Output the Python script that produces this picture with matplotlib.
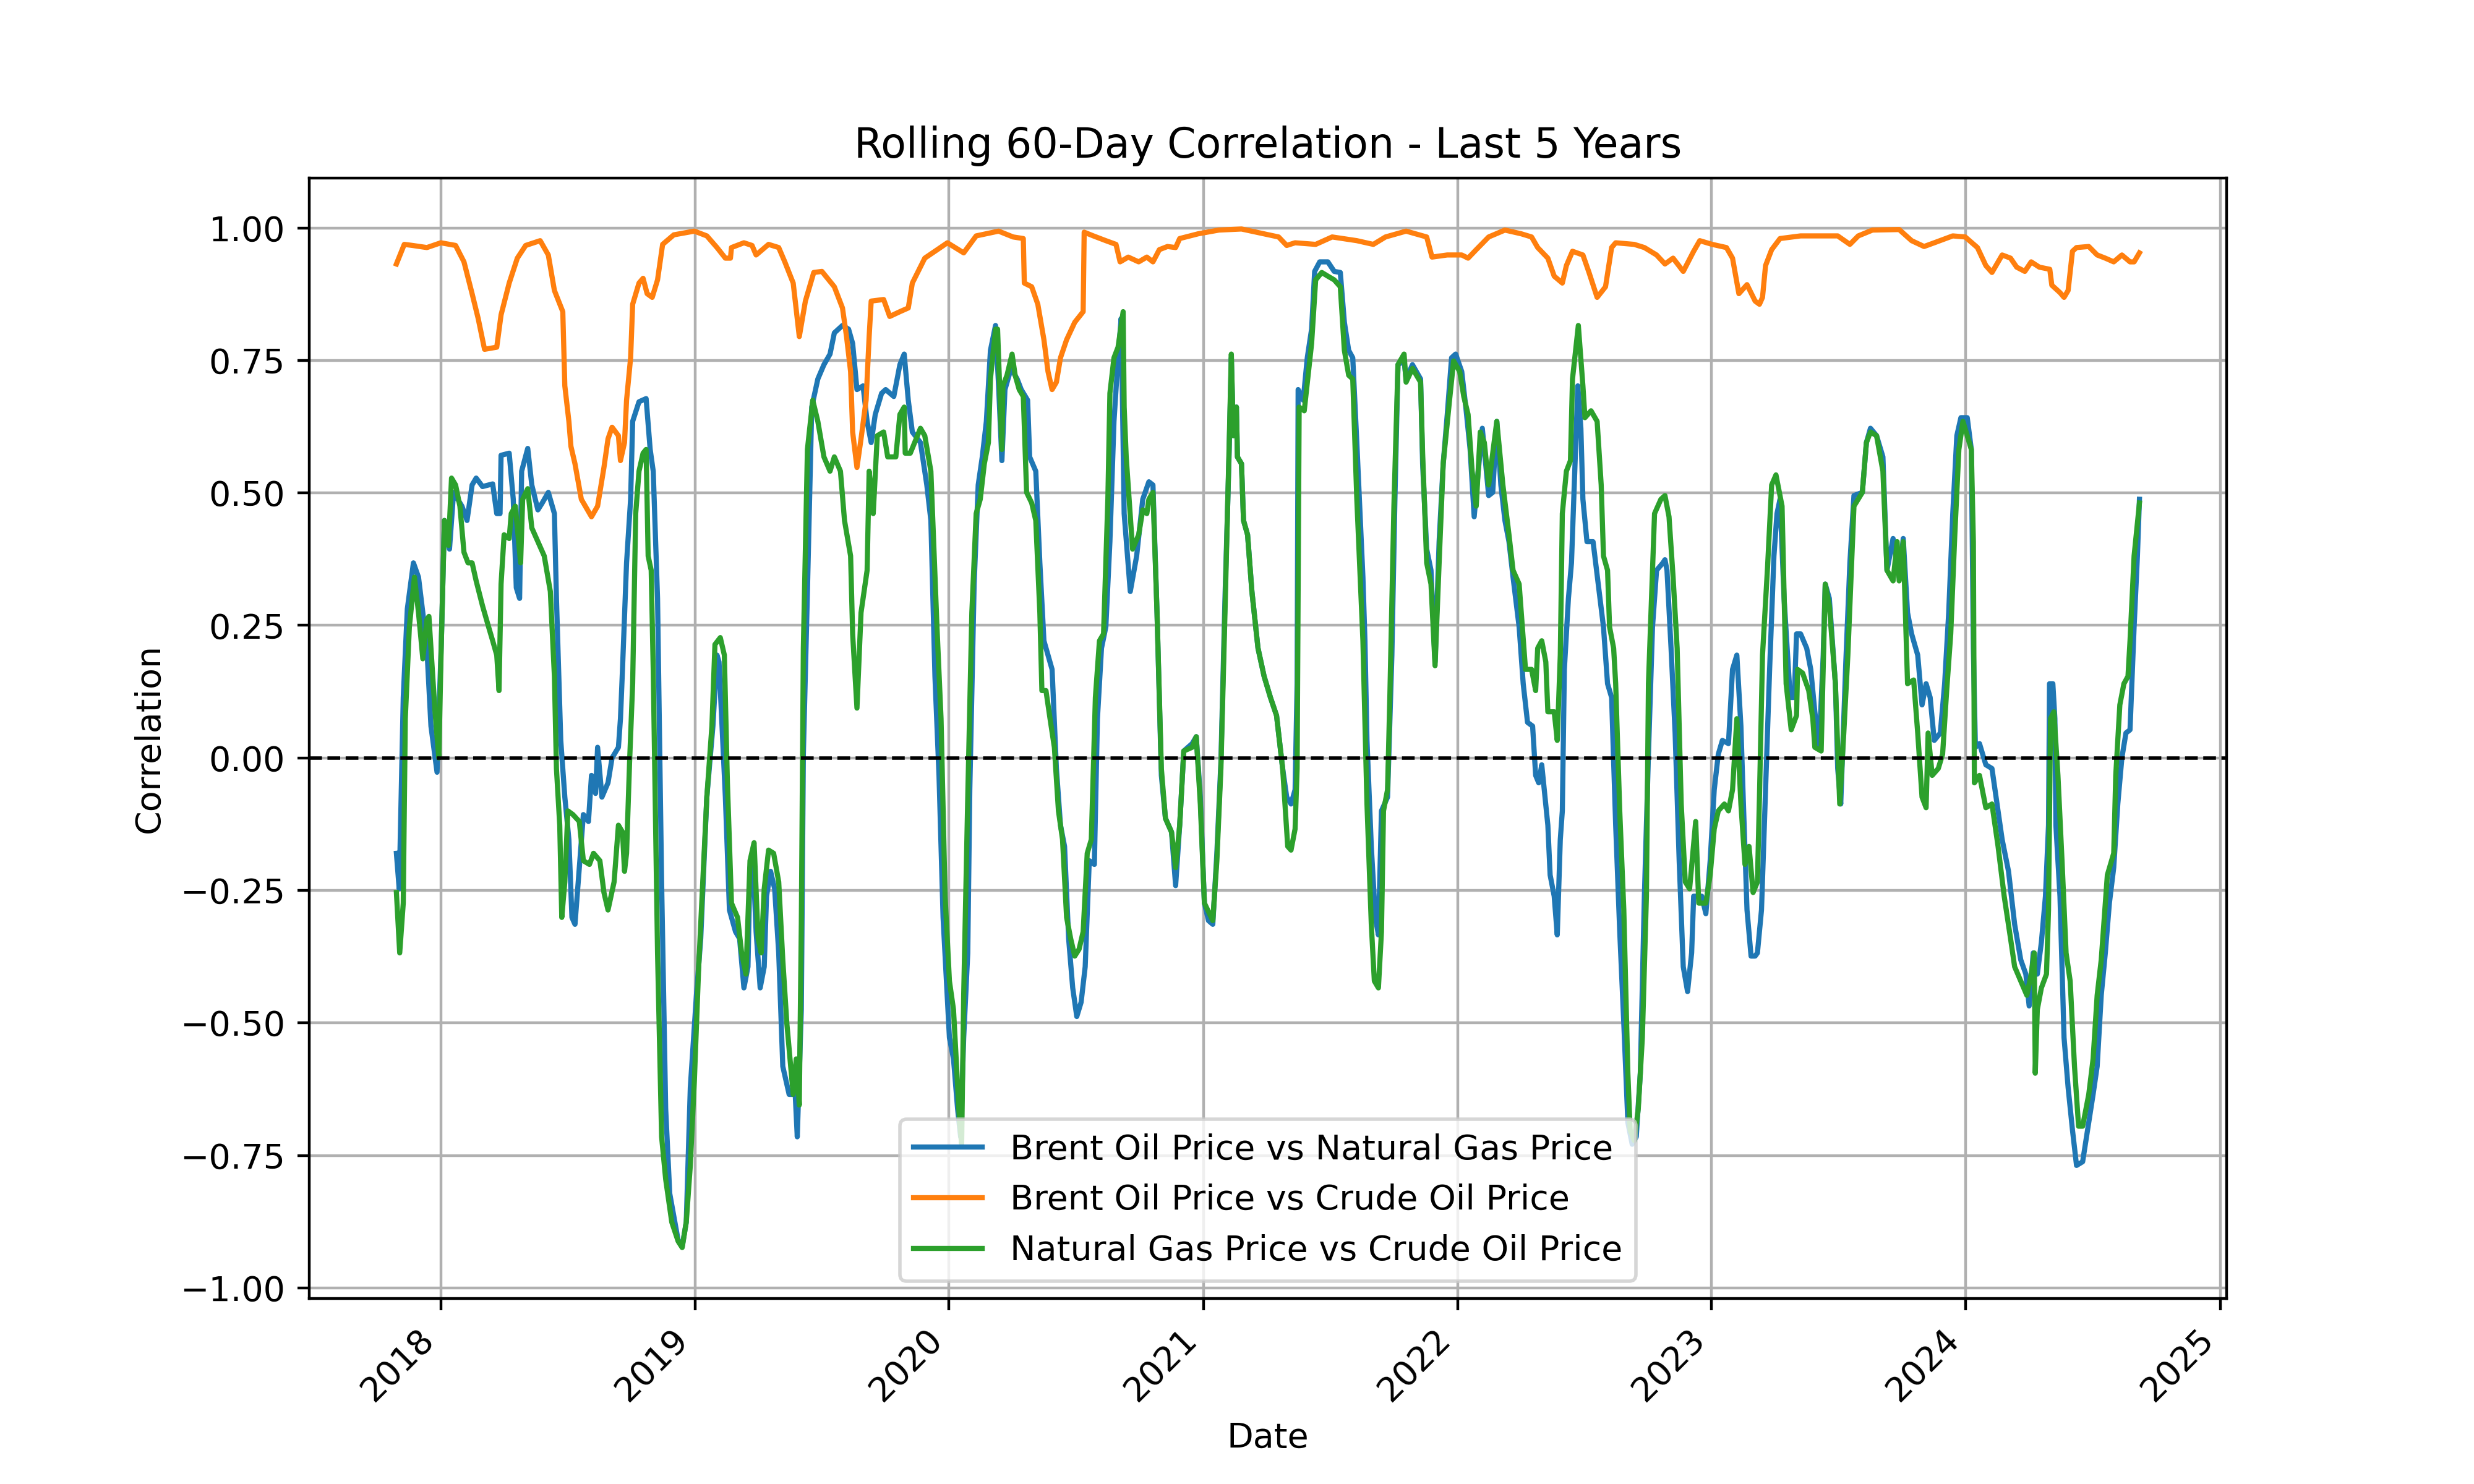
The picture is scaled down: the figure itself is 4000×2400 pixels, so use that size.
import matplotlib
matplotlib.use("Agg")
import matplotlib.pyplot as plt
import numpy as np
import pandas as pd

# rolling correlations (decimal year, correlation)
brent_gas_t = [
    2017.825, 2017.836, 2017.852, 2017.868, 2017.892, 2017.912, 2017.929, 2017.945, 2017.961, 2017.985,
    2018.002, 2018.014, 2018.034, 2018.050, 2018.083, 2018.103, 2018.123, 2018.139, 2018.164, 2018.204,
    2018.220, 2018.233, 2018.237, 2018.269, 2018.285, 2018.297, 2018.310, 2018.318, 2018.342, 2018.358,
    2018.382, 2018.399, 2018.423, 2018.447, 2018.455, 2018.472, 2018.488, 2018.504, 2018.516, 2018.528,
    2018.545, 2018.561, 2018.581, 2018.593, 2018.609, 2018.617, 2018.634, 2018.658, 2018.674, 2018.699,
    2018.707, 2018.715, 2018.731, 2018.747, 2018.755, 2018.780, 2018.808, 2018.824, 2018.836, 2018.853,
    2018.869, 2018.885, 2018.901, 2018.934, 2018.950, 2018.966, 2018.982, 2019.006, 2019.023, 2019.047,
    2019.071, 2019.087, 2019.095, 2019.120, 2019.136, 2019.160, 2019.176, 2019.193, 2019.209, 2019.217,
    2019.229, 2019.241, 2019.257, 2019.273, 2019.282, 2019.298, 2019.314, 2019.330, 2019.346, 2019.371,
    2019.395, 2019.403, 2019.419, 2019.427, 2019.443, 2019.460, 2019.484, 2019.508, 2019.532, 2019.549,
    2019.581, 2019.605, 2019.621, 2019.638, 2019.662, 2019.678, 2019.694, 2019.710, 2019.735, 2019.751,
    2019.783, 2019.807, 2019.824, 2019.840, 2019.856, 2019.888, 2019.913, 2019.929, 2019.945, 2019.961,
    2019.977, 2020.002, 2020.018, 2020.034, 2020.046, 2020.058, 2020.074, 2020.082, 2020.099, 2020.115,
    2020.131, 2020.147, 2020.163, 2020.183, 2020.195, 2020.208, 2020.220, 2020.244, 2020.268, 2020.284,
    2020.309, 2020.317, 2020.341, 2020.357, 2020.373, 2020.389, 2020.405, 2020.422, 2020.438, 2020.454,
    2020.470, 2020.486, 2020.502, 2020.519, 2020.535, 2020.551, 2020.571, 2020.583, 2020.599, 2020.616,
    2020.632, 2020.648, 2020.664, 2020.676, 2020.680, 2020.688, 2020.712, 2020.737, 2020.761, 2020.785,
    2020.801, 2020.817, 2020.834, 2020.850, 2020.874, 2020.890, 2020.906, 2020.922, 2020.955, 2020.971,
    2020.987, 2021.003, 2021.019, 2021.036, 2021.052, 2021.068, 2021.084, 2021.100, 2021.109, 2021.117,
    2021.129, 2021.133, 2021.149, 2021.157, 2021.173, 2021.190, 2021.214, 2021.238, 2021.263, 2021.287,
    2021.311, 2021.327, 2021.344, 2021.360, 2021.368, 2021.372, 2021.392, 2021.408, 2021.425, 2021.437,
    2021.457, 2021.489, 2021.514, 2021.538, 2021.554, 2021.571, 2021.587, 2021.603, 2021.627, 2021.635,
    2021.643, 2021.660, 2021.676, 2021.688, 2021.700, 2021.724, 2021.741, 2021.753, 2021.765, 2021.789,
    2021.797, 2021.822, 2021.854, 2021.862, 2021.878, 2021.895, 2021.911, 2021.927, 2021.943, 2021.959,
    2021.976, 2021.992, 2022.016, 2022.032, 2022.049, 2022.065, 2022.081, 2022.097, 2022.122, 2022.138,
    2022.154, 2022.170, 2022.186, 2022.202, 2022.218, 2022.242, 2022.258, 2022.275, 2022.295, 2022.307,
    2022.319, 2022.331, 2022.355, 2022.364, 2022.380, 2022.392, 2022.404, 2022.412, 2022.420, 2022.436,
    2022.448, 2022.460, 2022.473, 2022.485, 2022.493, 2022.509, 2022.533, 2022.557, 2022.574, 2022.590,
    2022.606, 2022.622, 2022.638, 2022.654, 2022.670, 2022.687, 2022.703, 2022.719, 2022.735, 2022.751,
    2022.767, 2022.783, 2022.808, 2022.816, 2022.824, 2022.840, 2022.856, 2022.872, 2022.888, 2022.905,
    2022.921, 2022.929, 2022.961, 2022.977, 2022.994, 2023.010, 2023.026, 2023.042, 2023.066, 2023.082,
    2023.099, 2023.115, 2023.123, 2023.139, 2023.155, 2023.171, 2023.180, 2023.196, 2023.212, 2023.228,
    2023.245, 2023.257, 2023.269, 2023.285, 2023.309, 2023.325, 2023.334, 2023.350, 2023.374, 2023.390,
    2023.406, 2023.423, 2023.439, 2023.447, 2023.463, 2023.487, 2023.496, 2023.508, 2023.528, 2023.544,
    2023.560, 2023.593, 2023.609, 2023.625, 2023.649, 2023.674, 2023.690, 2023.714, 2023.738, 2023.754,
    2023.771, 2023.787, 2023.811, 2023.828, 2023.844, 2023.860, 2023.876, 2023.900, 2023.917, 2023.933,
    2023.949, 2023.965, 2023.981, 2024.006, 2024.022, 2024.030, 2024.038, 2024.054, 2024.079, 2024.103,
    2024.127, 2024.143, 2024.168, 2024.192, 2024.216, 2024.236, 2024.249, 2024.265, 2024.281, 2024.297,
    2024.313, 2024.325, 2024.329, 2024.342, 2024.350, 2024.354, 2024.370, 2024.386, 2024.402, 2024.419,
    2024.435, 2024.459, 2024.483, 2024.500, 2024.516, 2024.532, 2024.548, 2024.564, 2024.581, 2024.597,
    2024.613, 2024.629, 2024.645, 2024.661, 2024.674, 2024.682,
]
brent_gas_r = [
    -0.180, -0.247, 0.114, 0.281, 0.368, 0.341, 0.274, 0.207, 0.060, -0.027,
    0.221, 0.448, 0.394, 0.501, 0.475, 0.448, 0.515, 0.528, 0.512, 0.517,
    0.461, 0.461, 0.571, 0.575, 0.488, 0.321, 0.301, 0.541, 0.584, 0.515,
    0.468, 0.481, 0.501, 0.461, 0.301, 0.033, -0.074, -0.154, -0.301, -0.314,
    -0.207, -0.107, -0.120, -0.033, -0.067, 0.020, -0.074, -0.047, 0.000, 0.020,
    0.074, 0.167, 0.368, 0.488, 0.635, 0.672, 0.678, 0.582, 0.541, 0.301,
    -0.234, -0.662, -0.822, -0.910, -0.922, -0.876, -0.622, -0.448, -0.341, -0.074,
    0.060, 0.194, 0.181, -0.074, -0.287, -0.328, -0.341, -0.434, -0.394, -0.207,
    -0.194, -0.328, -0.434, -0.394, -0.261, -0.214, -0.247, -0.368, -0.582, -0.635,
    -0.635, -0.715, -0.475, 0.007, 0.314, 0.662, 0.715, 0.742, 0.762, 0.802,
    0.816, 0.809, 0.782, 0.695, 0.702, 0.635, 0.595, 0.648, 0.688, 0.695,
    0.682, 0.742, 0.762, 0.675, 0.615, 0.595, 0.515, 0.448, 0.154, -0.033,
    -0.301, -0.528, -0.568, -0.662, -0.715, -0.528, -0.368, -0.060, 0.328, 0.515,
    0.568, 0.635, 0.769, 0.816, 0.702, 0.561, 0.695, 0.735, 0.715, 0.695,
    0.675, 0.568, 0.541, 0.368, 0.221, 0.194, 0.167, -0.020, -0.127, -0.167,
    -0.341, -0.434, -0.488, -0.461, -0.394, -0.194, -0.201, 0.074, 0.207, 0.247,
    0.408, 0.635, 0.755, 0.829, 0.715, 0.461, 0.314, 0.381, 0.488, 0.521,
    0.515, 0.274, -0.033, -0.114, -0.140, -0.241, -0.127, 0.013, 0.027, 0.040,
    -0.074, -0.274, -0.307, -0.314, -0.180, -0.007, 0.301, 0.568, 0.755, 0.608,
    0.662, 0.568, 0.555, 0.448, 0.421, 0.314, 0.207, 0.154, 0.114, 0.080,
    -0.020, -0.074, -0.087, -0.060, 0.140, 0.695, 0.675, 0.755, 0.809, 0.918,
    0.936, 0.936, 0.918, 0.916, 0.822, 0.769, 0.755, 0.595, 0.341, 0.221,
    0.033, -0.167, -0.301, -0.334, -0.100, -0.074, 0.194, 0.488, 0.742, 0.749,
    0.715, 0.742, 0.715, 0.555, 0.394, 0.354, 0.181, 0.408, 0.555, 0.648,
    0.755, 0.762, 0.729, 0.662, 0.582, 0.455, 0.541, 0.622, 0.495, 0.501,
    0.635, 0.515, 0.448, 0.408, 0.341, 0.247, 0.140, 0.067, 0.060, -0.033,
    -0.047, -0.013, -0.127, -0.221, -0.261, -0.334, -0.154, -0.100, 0.167, 0.301,
    0.368, 0.528, 0.702, 0.622, 0.488, 0.408, 0.408, 0.314, 0.247, 0.140,
    0.114, -0.127, -0.328, -0.501, -0.688, -0.729, -0.715, -0.595, -0.261, 0.007,
    0.247, 0.354, 0.368, 0.374, 0.354, 0.207, 0.047, -0.194, -0.394, -0.441,
    -0.368, -0.261, -0.261, -0.294, -0.194, -0.060, 0.007, 0.033, 0.027, 0.167,
    0.194, 0.060, -0.060, -0.287, -0.374, -0.374, -0.368, -0.287, -0.060, 0.167,
    0.381, 0.461, 0.488, 0.301, 0.114, 0.114, 0.234, 0.234, 0.207, 0.167,
    0.087, 0.020, 0.194, 0.328, 0.301, 0.140, -0.020, -0.087, 0.181, 0.368,
    0.495, 0.501, 0.595, 0.622, 0.608, 0.568, 0.354, 0.414, 0.341, 0.414,
    0.274, 0.234, 0.194, 0.100, 0.140, 0.114, 0.033, 0.047, 0.140, 0.274,
    0.461, 0.608, 0.642, 0.642, 0.582, 0.207, 0.020, 0.027, -0.013, -0.020,
    -0.100, -0.154, -0.214, -0.314, -0.381, -0.408, -0.468, -0.368, -0.408, -0.348,
    -0.261, -0.127, 0.140, 0.140, 0.074, -0.127, -0.261, -0.528, -0.622, -0.702,
    -0.769, -0.762, -0.688, -0.635, -0.582, -0.448, -0.368, -0.274, -0.207, -0.087,
    0.000, 0.047, 0.053, 0.247, 0.381, 0.488,
]

brent_crude_t = [
    2017.825, 2017.856, 2017.888, 2017.945, 2018.000, 2018.058, 2018.091, 2018.123, 2018.147, 2018.172,
    2018.220, 2018.237, 2018.269, 2018.301, 2018.334, 2018.391, 2018.423, 2018.447, 2018.480, 2018.488,
    2018.504, 2018.512, 2018.528, 2018.553, 2018.593, 2018.617, 2018.642, 2018.658, 2018.674, 2018.699,
    2018.707, 2018.723, 2018.731, 2018.747, 2018.755, 2018.780, 2018.796, 2018.812, 2018.832, 2018.853,
    2018.873, 2018.917, 2018.998, 2019.047, 2019.087, 2019.120, 2019.140, 2019.144, 2019.193, 2019.225,
    2019.241, 2019.290, 2019.330, 2019.354, 2019.387, 2019.411, 2019.435, 2019.468, 2019.500, 2019.549,
    2019.581, 2019.597, 2019.613, 2019.621, 2019.638, 2019.654, 2019.674, 2019.686, 2019.694, 2019.743,
    2019.767, 2019.807, 2019.840, 2019.856, 2019.905, 2019.945, 2019.994, 2020.058, 2020.107, 2020.195,
    2020.252, 2020.292, 2020.296, 2020.325, 2020.349, 2020.373, 2020.389, 2020.405, 2020.422, 2020.438,
    2020.462, 2020.494, 2020.527, 2020.531, 2020.567, 2020.616, 2020.656, 2020.672, 2020.704, 2020.745,
    2020.777, 2020.801, 2020.826, 2020.858, 2020.890, 2020.906, 2020.979, 2021.060, 2021.149, 2021.295,
    2021.327, 2021.360, 2021.441, 2021.506, 2021.603, 2021.668, 2021.716, 2021.797, 2021.878, 2021.899,
    2021.959, 2022.016, 2022.041, 2022.073, 2022.122, 2022.186, 2022.250, 2022.291, 2022.315, 2022.355,
    2022.380, 2022.412, 2022.428, 2022.452, 2022.493, 2022.517, 2022.549, 2022.582, 2022.606, 2022.622,
    2022.695, 2022.735, 2022.783, 2022.816, 2022.848, 2022.888, 2022.929, 2022.953, 2023.002, 2023.058,
    2023.082, 2023.107, 2023.139, 2023.171, 2023.188, 2023.200, 2023.212, 2023.236, 2023.269, 2023.350,
    2023.496, 2023.544, 2023.577, 2023.633, 2023.738, 2023.787, 2023.836, 2023.876, 2023.949, 2023.998,
    2024.046, 2024.079, 2024.103, 2024.143, 2024.176, 2024.200, 2024.232, 2024.257, 2024.289, 2024.330,
    2024.338, 2024.370, 2024.386, 2024.402, 2024.419, 2024.435, 2024.483, 2024.516, 2024.548, 2024.581,
    2024.613, 2024.645, 2024.661, 2024.682,
]
brent_crude_r = [
    0.932, 0.969, 0.967, 0.963, 0.972, 0.967, 0.936, 0.876, 0.829, 0.771,
    0.775, 0.836, 0.896, 0.943, 0.967, 0.976, 0.949, 0.882, 0.842, 0.702,
    0.635, 0.588, 0.555, 0.488, 0.455, 0.475, 0.548, 0.602, 0.624, 0.608,
    0.561, 0.595, 0.675, 0.755, 0.856, 0.896, 0.905, 0.876, 0.869, 0.902,
    0.969, 0.987, 0.994, 0.985, 0.963, 0.943, 0.943, 0.963, 0.972, 0.967,
    0.949, 0.969, 0.963, 0.936, 0.896, 0.795, 0.862, 0.916, 0.918, 0.889,
    0.849, 0.795, 0.729, 0.615, 0.548, 0.602, 0.675, 0.795, 0.862, 0.865,
    0.833, 0.842, 0.849, 0.896, 0.943, 0.956, 0.972, 0.953, 0.985, 0.994,
    0.983, 0.980, 0.896, 0.889, 0.856, 0.789, 0.729, 0.695, 0.709, 0.755,
    0.789, 0.822, 0.842, 0.992, 0.985, 0.976, 0.969, 0.936, 0.945, 0.936,
    0.945, 0.936, 0.959, 0.965, 0.963, 0.980, 0.989, 0.996, 0.998, 0.983,
    0.967, 0.972, 0.969, 0.983, 0.976, 0.969, 0.983, 0.994, 0.983, 0.945,
    0.949, 0.949, 0.943, 0.959, 0.983, 0.996, 0.989, 0.983, 0.963, 0.943,
    0.909, 0.896, 0.929, 0.956, 0.949, 0.916, 0.869, 0.889, 0.963, 0.972,
    0.969, 0.963, 0.949, 0.932, 0.943, 0.918, 0.956, 0.976, 0.969, 0.963,
    0.943, 0.876, 0.893, 0.862, 0.856, 0.869, 0.929, 0.959, 0.980, 0.985,
    0.985, 0.969, 0.985, 0.996, 0.997, 0.976, 0.965, 0.972, 0.985, 0.983,
    0.963, 0.929, 0.916, 0.949, 0.943, 0.926, 0.918, 0.936, 0.926, 0.922,
    0.892, 0.878, 0.869, 0.882, 0.956, 0.963, 0.965, 0.949, 0.943, 0.936,
    0.949, 0.936, 0.936, 0.953,
]

gas_crude_t = [
    2017.825, 2017.838, 2017.852, 2017.860, 2017.876, 2017.896, 2017.912, 2017.929, 2017.945, 2017.953,
    2017.961, 2017.977, 2017.992, 2018.002, 2018.014, 2018.030, 2018.042, 2018.058, 2018.075, 2018.091,
    2018.107, 2018.123, 2018.139, 2018.164, 2018.188, 2018.204, 2018.220, 2018.229, 2018.237, 2018.249,
    2018.269, 2018.277, 2018.293, 2018.314, 2018.322, 2018.342, 2018.358, 2018.382, 2018.407, 2018.431,
    2018.447, 2018.455, 2018.468, 2018.476, 2018.488, 2018.500, 2018.520, 2018.545, 2018.561, 2018.585,
    2018.601, 2018.626, 2018.642, 2018.658, 2018.682, 2018.699, 2018.715, 2018.723, 2018.731, 2018.743,
    2018.755, 2018.767, 2018.780, 2018.796, 2018.808, 2018.816, 2018.828, 2018.836, 2018.853, 2018.869,
    2018.885, 2018.909, 2018.934, 2018.950, 2018.966, 2018.982, 2018.998, 2019.015, 2019.031, 2019.047,
    2019.067, 2019.079, 2019.100, 2019.116, 2019.128, 2019.144, 2019.168, 2019.184, 2019.201, 2019.217,
    2019.233, 2019.249, 2019.261, 2019.273, 2019.290, 2019.310, 2019.330, 2019.346, 2019.362, 2019.387,
    2019.399, 2019.411, 2019.419, 2019.427, 2019.443, 2019.464, 2019.484, 2019.508, 2019.532, 2019.549,
    2019.573, 2019.589, 2019.613, 2019.621, 2019.638, 2019.654, 2019.678, 2019.686, 2019.702, 2019.718,
    2019.743, 2019.759, 2019.791, 2019.807, 2019.824, 2019.828, 2019.848, 2019.888, 2019.905, 2019.929,
    2019.953, 2019.969, 2019.985, 2020.002, 2020.018, 2020.042, 2020.050, 2020.058, 2020.074, 2020.090,
    2020.107, 2020.123, 2020.139, 2020.155, 2020.163, 2020.183, 2020.191, 2020.208, 2020.212, 2020.228,
    2020.248, 2020.260, 2020.276, 2020.292, 2020.305, 2020.325, 2020.341, 2020.357, 2020.365, 2020.381,
    2020.397, 2020.414, 2020.430, 2020.446, 2020.462, 2020.478, 2020.494, 2020.511, 2020.527, 2020.543,
    2020.559, 2020.575, 2020.591, 2020.607, 2020.624, 2020.632, 2020.648, 2020.664, 2020.684, 2020.688,
    2020.696, 2020.721, 2020.745, 2020.761, 2020.777, 2020.785, 2020.801, 2020.817, 2020.834, 2020.850,
    2020.874, 2020.890, 2020.906, 2020.922, 2020.955, 2020.971, 2020.987, 2021.003, 2021.036, 2021.052,
    2021.068, 2021.084, 2021.100, 2021.109, 2021.117, 2021.129, 2021.133, 2021.149, 2021.157, 2021.173,
    2021.190, 2021.214, 2021.238, 2021.263, 2021.287, 2021.311, 2021.331, 2021.344, 2021.360, 2021.368,
    2021.376, 2021.396, 2021.425, 2021.441, 2021.465, 2021.489, 2021.514, 2021.538, 2021.554, 2021.571,
    2021.587, 2021.603, 2021.627, 2021.643, 2021.660, 2021.672, 2021.688, 2021.700, 2021.708, 2021.724,
    2021.733, 2021.749, 2021.765, 2021.789, 2021.797, 2021.822, 2021.854, 2021.862, 2021.878, 2021.895,
    2021.911, 2021.927, 2021.943, 2021.968, 2021.984, 2022.008, 2022.024, 2022.041, 2022.057, 2022.073,
    2022.089, 2022.105, 2022.122, 2022.154, 2022.178, 2022.202, 2022.218, 2022.242, 2022.267, 2022.291,
    2022.307, 2022.315, 2022.331, 2022.347, 2022.355, 2022.380, 2022.392, 2022.404, 2022.412, 2022.428,
    2022.444, 2022.452, 2022.475, 2022.493, 2022.501, 2022.525, 2022.549, 2022.565, 2022.574, 2022.590,
    2022.598, 2022.614, 2022.622, 2022.638, 2022.654, 2022.670, 2022.679, 2022.695, 2022.711, 2022.727,
    2022.743, 2022.751, 2022.767, 2022.775, 2022.800, 2022.816, 2022.832, 2022.848, 2022.864, 2022.880,
    2022.896, 2022.913, 2022.937, 2022.949, 2022.977, 2022.994, 2023.010, 2023.026, 2023.050, 2023.066,
    2023.082, 2023.099, 2023.115, 2023.131, 2023.147, 2023.163, 2023.180, 2023.188, 2023.200, 2023.220,
    2023.236, 2023.253, 2023.277, 2023.293, 2023.313, 2023.334, 2023.338, 2023.358, 2023.382, 2023.398,
    2023.406, 2023.431, 2023.447, 2023.463, 2023.487, 2023.504, 2023.520, 2023.536, 2023.560, 2023.593,
    2023.609, 2023.625, 2023.649, 2023.674, 2023.690, 2023.714, 2023.730, 2023.738, 2023.754, 2023.771,
    2023.795, 2023.811, 2023.828, 2023.844, 2023.852, 2023.868, 2023.892, 2023.909, 2023.925, 2023.941,
    2023.957, 2023.973, 2023.989, 2024.022, 2024.030, 2024.034, 2024.054, 2024.079, 2024.103, 2024.127,
    2024.151, 2024.176, 2024.192, 2024.216, 2024.240, 2024.257, 2024.269, 2024.273, 2024.281, 2024.297,
    2024.317, 2024.325, 2024.333, 2024.346, 2024.362, 2024.378, 2024.394, 2024.410, 2024.427, 2024.443,
    2024.459, 2024.483, 2024.500, 2024.516, 2024.532, 2024.556, 2024.581, 2024.589, 2024.605, 2024.621,
    2024.637, 2024.645, 2024.661, 2024.682,
]
gas_crude_r = [
    -0.254, -0.368, -0.274, 0.074, 0.247, 0.341, 0.274, 0.187, 0.261, 0.267,
    0.207, 0.087, 0.000, 0.221, 0.448, 0.401, 0.528, 0.515, 0.475, 0.388,
    0.368, 0.368, 0.334, 0.287, 0.247, 0.221, 0.194, 0.127, 0.328, 0.421,
    0.414, 0.461, 0.475, 0.368, 0.488, 0.508, 0.434, 0.408, 0.381, 0.314,
    0.154, -0.020, -0.127, -0.301, -0.234, -0.100, -0.107, -0.120, -0.194, -0.201,
    -0.180, -0.194, -0.254, -0.287, -0.234, -0.127, -0.140, -0.214, -0.180, -0.007,
    0.140, 0.461, 0.541, 0.575, 0.582, 0.381, 0.354, 0.167, -0.368, -0.715,
    -0.795, -0.876, -0.912, -0.924, -0.876, -0.769, -0.608, -0.394, -0.234, -0.074,
    0.060, 0.214, 0.227, 0.194, -0.047, -0.274, -0.301, -0.368, -0.408, -0.194,
    -0.160, -0.341, -0.368, -0.247, -0.174, -0.180, -0.234, -0.381, -0.501, -0.635,
    -0.568, -0.655, -0.314, 0.207, 0.582, 0.675, 0.635, 0.568, 0.541, 0.568,
    0.541, 0.448, 0.381, 0.234, 0.094, 0.274, 0.354, 0.541, 0.461, 0.608,
    0.615, 0.568, 0.568, 0.648, 0.662, 0.575, 0.575, 0.622, 0.608, 0.541,
    0.247, 0.074, -0.261, -0.421, -0.475, -0.688, -0.729, -0.448, -0.074, 0.274,
    0.461, 0.488, 0.555, 0.595, 0.715, 0.809, 0.809, 0.582, 0.702, 0.722,
    0.762, 0.722, 0.695, 0.682, 0.501, 0.481, 0.448, 0.274, 0.127, 0.127,
    0.074, 0.020, -0.100, -0.154, -0.301, -0.341, -0.374, -0.361, -0.328, -0.180,
    -0.154, 0.114, 0.221, 0.234, 0.488, 0.688, 0.755, 0.775, 0.842, 0.662,
    0.568, 0.394, 0.421, 0.468, 0.461, 0.488, 0.501, 0.274, -0.020, -0.114,
    -0.140, -0.207, -0.127, 0.013, 0.020, 0.040, -0.087, -0.274, -0.307, -0.194,
    -0.020, 0.274, 0.582, 0.762, 0.608, 0.662, 0.568, 0.555, 0.448, 0.421,
    0.314, 0.207, 0.154, 0.114, 0.080, -0.020, -0.167, -0.174, -0.134, -0.020,
    0.662, 0.655, 0.782, 0.902, 0.916, 0.909, 0.902, 0.889, 0.769, 0.722,
    0.715, 0.488, 0.221, -0.087, -0.314, -0.421, -0.434, -0.328, -0.100, -0.060,
    0.114, 0.475, 0.742, 0.762, 0.709, 0.735, 0.709, 0.575, 0.368, 0.328,
    0.174, 0.368, 0.555, 0.675, 0.749, 0.729, 0.682, 0.648, 0.541, 0.475,
    0.615, 0.595, 0.515, 0.635, 0.515, 0.421, 0.354, 0.328, 0.167, 0.167,
    0.127, 0.207, 0.221, 0.181, 0.087, 0.087, 0.033, 0.194, 0.461, 0.541,
    0.561, 0.715, 0.816, 0.702, 0.642, 0.655, 0.635, 0.515, 0.381, 0.354,
    0.247, 0.207, 0.140, -0.100, -0.287, -0.595, -0.702, -0.722, -0.662, -0.528,
    -0.261, 0.140, 0.354, 0.461, 0.488, 0.495, 0.455, 0.341, 0.207, -0.087,
    -0.234, -0.247, -0.120, -0.274, -0.274, -0.221, -0.134, -0.100, -0.087, -0.100,
    -0.060, 0.074, -0.087, -0.201, -0.167, -0.254, -0.234, -0.074, 0.194, 0.361,
    0.515, 0.534, 0.475, 0.140, 0.053, 0.080, 0.167, 0.160, 0.127, 0.074,
    0.020, 0.013, 0.328, 0.287, 0.140, -0.087, 0.047, 0.194, 0.475, 0.501,
    0.595, 0.615, 0.608, 0.541, 0.354, 0.334, 0.408, 0.334, 0.408, 0.140,
    0.147, 0.047, -0.074, -0.094, 0.047, -0.033, -0.020, 0.007, 0.127, 0.234,
    0.421, 0.582, 0.635, 0.582, 0.408, -0.047, -0.033, -0.094, -0.087, -0.167,
    -0.261, -0.341, -0.394, -0.421, -0.448, -0.408, -0.368, -0.595, -0.475, -0.434,
    -0.408, -0.287, 0.074, 0.087, -0.033, -0.194, -0.368, -0.421, -0.582, -0.695,
    -0.695, -0.635, -0.568, -0.448, -0.381, -0.221, -0.180, -0.033, 0.100, 0.140,
    0.154, 0.221, 0.381, 0.481,
]


def to_dates(years):
    """Turn decimal years into timestamps."""
    out = []
    for y in years:
        yr = int(y)
        start = pd.Timestamp(yr, 1, 1)
        end = pd.Timestamp(yr + 1, 1, 1)
        out.append(start + (end - start) * (y - yr))
    return pd.DatetimeIndex(out)


plt.figure(figsize=(10, 6))
plt.plot(to_dates(brent_gas_t), brent_gas_r, label="Brent Oil Price vs Natural Gas Price")
plt.plot(to_dates(brent_crude_t), brent_crude_r, label="Brent Oil Price vs Crude Oil Price")
plt.plot(to_dates(gas_crude_t), gas_crude_r, label="Natural Gas Price vs Crude Oil Price")
plt.axhline(0, color="black", linestyle="--", linewidth=1)

plt.title("Rolling 60-Day Correlation - Last 5 Years")
plt.xlabel("Date")
plt.ylabel("Correlation")
plt.legend(loc="lower center")
plt.grid(True)
plt.xticks(rotation=45, ha="right")
plt.subplots_adjust(bottom=0.125)

plt.savefig("out.png", dpi=400)
